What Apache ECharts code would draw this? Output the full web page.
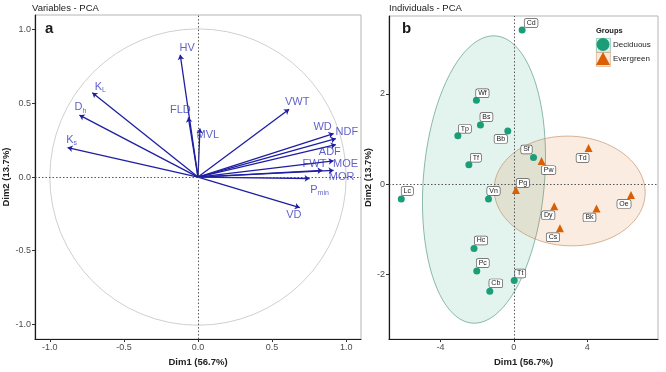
<!doctype html>
<html>
<head>
<meta charset="utf-8">
<title>PCA - variables and individuals</title>
<style>
  html, body { margin: 0; background: #fff; }
  #main { width: 666px; height: 372px; }
</style>
</head>
<body>
<div id="main"></div>
<script src="https://cdn.jsdelivr.net/npm/echarts@6/dist/echarts.min.js"></script>
<script>
// ---- variables (correlation circle) ----
var varNames = ['HV', 'KL', 'Dh', 'Ks', 'FLD', 'MVL', 'VWT', 'WD', 'NDF', 'ADF', 'FWT', 'MOE', 'MOR', 'Pmin', 'VD'];
var varDim1 = [-0.12, -0.713, -0.80, -0.88, -0.065, 0.013, 0.615, 0.915, 0.93, 0.93, 0.84, 0.915, 0.915, 0.753, 0.687];
var varDim2 = [0.83, 0.573, 0.42, 0.20, 0.405, 0.33, 0.46, 0.295, 0.26, 0.22, 0.045, 0.11, 0.045, -0.01, -0.207];

// ---- individuals ----
var decNames = ['Cd', 'Wf', 'Bs', 'Tp', 'Bb', 'Tf', 'Sf', 'Lc', 'Vn', 'Hc', 'Pc', 'Tt', 'Cb'];
var decDim1 = [0.45, -2.04, -1.82, -3.05, -0.33, -2.45, 1.07, -6.13, -1.38, -2.17, -2.02, 0.02, -1.31];
var decDim2 = [3.42, 1.86, 1.31, 1.07, 1.18, 0.43, 0.59, -0.33, -0.33, -1.43, -1.93, -2.14, -2.38];

var evgNames = ['Pw', 'Td', 'Pg', 'Dy', 'Bk', 'Oe', 'Cs'];
var evgDim1 = [1.51, 4.07, 0.11, 2.2, 4.5, 6.38, 2.51];
var evgDim2 = [0.51, 0.80, -0.13, -0.49, -0.54, -0.24, -0.98];

// ---- tick labels ----
var varTicks = [-1, -0.5, 0, 0.5, 1];
var indXTicks = [-4, 0, 4];
var indYTicks = [-2, 0, 2];

// label text (rich, with subscripts) and repel-like shifts, kept apart from data
var varLabelText = {
    KL: '{m|K}{s|L}', Dh: '{m|D}{s|h}', Ks: '{m|K}{s|s}', Pmin: '{m|P}{s|min}'
};
var varLabelShift = {
    HV: [7, -7], KL: [8, -6], Dh: [1, -8], Ks: [4, -8], FLD: [-8, -7], MVL: [8, 7],
    VWT: [8, -7], WD: [-11, -7], NDF: [11, -7], ADF: [-6, 7], FWT: [-8, -6],
    MOE: [12, 3], MOR: [8, 7], Pmin: [10, 11], VD: [-6, 7]
};
var indLabelShift = {
    Cd: [9, -7], Wf: [6, -7], Bs: [6, -8], Tp: [7, -7], Bb: [-7, 8], Tf: [7, -7],
    Sf: [-7, -8], Lc: [6, -8], Vn: [5, -8], Hc: [7, -8], Pc: [6, -8], Tt: [6, -7],
    Cb: [6, -8], Pw: [7, 9], Td: [-6, 10], Pg: [7, -7], Dy: [-6, 9], Bk: [-7, 9],
    Oe: [-7, 9], Cs: [-7, 9]
};

var FONT = 'Liberation Sans, Arial, sans-serif';
var arrowColor = '#1e1ea2';
var varTextColor = '#3838bc';
var decColor = '#1b9e77';
var evgColor = '#d95f02';

function mean(a) {
    var s = 0;
    for (var i = 0; i < a.length; i++) s += a[i];
    return s / a.length;
}

// normal-theory ellipse like ggplot2 stat_ellipse(type = "norm")
function ellipsePoints(xs, ys, level) {
    var n = xs.length, mx = mean(xs), my = mean(ys);
    var sxx = 0, syy = 0, sxy = 0;
    for (var i = 0; i < n; i++) {
        sxx += (xs[i] - mx) * (xs[i] - mx);
        syy += (ys[i] - my) * (ys[i] - my);
        sxy += (xs[i] - mx) * (ys[i] - my);
    }
    sxx /= n - 1; syy /= n - 1; sxy /= n - 1;
    var d = n - 1;
    var q = d / 2 * (Math.pow(1 - level, -2 / d) - 1); // qf(level, 2, d)
    var r = Math.sqrt(2 * q);
    var r11 = Math.sqrt(sxx), r12 = sxy / r11, r22 = Math.sqrt(syy - r12 * r12);
    var pts = [];
    for (var k = 0; k < 90; k++) {
        var t = 2 * Math.PI * k / 90, c = Math.cos(t), s = Math.sin(t);
        pts.push([mx + r * c * r11, my + r * (c * r12 + s * r22)]);
    }
    return pts;
}

function ellipseSeries(xs, ys, fill, stroke) {
    var pts = ellipsePoints(xs, ys, 0.775);
    return {
        type: 'custom', xAxisIndex: 1, yAxisIndex: 1, silent: true, z: 1,
        data: [[mean(xs), mean(ys)]],
        renderItem: function (params, api) {
            return {
                type: 'polygon',
                shape: { points: pts.map(function (p) { return api.coord(p); }) },
                style: { fill: fill, stroke: stroke, lineWidth: 0.8 }
            };
        }
    };
}

function indData(names, d1, d2) {
    return names.map(function (nm, i) {
        return { name: nm, value: [d1[i], d2[i]], label: { offset: indLabelShift[nm] } };
    });
}

var chart = echarts.init(document.getElementById('main'));

var axisLabelStyle = { fontFamily: FONT, fontSize: 9, color: '#4d4d4d', margin: 4 };
var axisNameStyle = { fontFamily: FONT, fontSize: 9.5, fontWeight: 'bold', color: '#222' };

function makeAxis(grid, min, max, ticks, name, gap, fmt) {
    return {
        type: 'value', gridIndex: grid, min: min, max: max,
        name: name, nameLocation: 'middle', nameGap: gap, nameTextStyle: axisNameStyle,
        axisLine: { show: true, onZero: false, lineStyle: { color: '#1a1a1a', width: 1.2 } },
        axisTick: { show: true, length: 3, customValues: ticks, lineStyle: { color: '#333' } },
        axisLabel: Object.assign({ customValues: ticks, formatter: fmt }, axisLabelStyle),
        splitLine: { show: false }
    };
}

var zeroLines = {
    silent: true, symbol: 'none', label: { show: false },
    lineStyle: { color: '#444', type: [1.5, 2], width: 0.9 },
    data: [{ xAxis: 0 }, { yAxis: 0 }]
};

function titleText(text, left, top, size, weight) {
    return {
        text: text, left: left, top: top, padding: 0,
        textStyle: { fontFamily: FONT, fontSize: size, fontWeight: weight, color: '#1a1a1a' }
    };
}

chart.setOption({
    animation: false,
    title: [
        titleText('Variables - PCA', 32, 3, 9.5, 'normal'),
        titleText('Individuals - PCA', 389, 3, 9.5, 'normal'),
        titleText('a', 45, 21, 15, 'bold'),
        titleText('b', 402, 21, 15, 'bold'),
        titleText('Groups', 596, 27, 7.5, 'bold')
    ],
    grid: [
        { left: 32, top: 15, width: 329, height: 330, show: true, borderColor: '#b5b5b5', borderWidth: 1 },
        { left: 389, top: 16, width: 269, height: 330, show: true, borderColor: '#b5b5b5', borderWidth: 1 }
    ],
    xAxis: [
        makeAxis(0, -1.1, 1.1, varTicks, 'Dim1 (56.7%)', 16, function (v) { return v.toFixed(1); }),
        makeAxis(1, -6.8, 7.85, indXTicks, 'Dim1 (56.7%)', 16, function (v) { return String(v); })
    ],
    yAxis: [
        makeAxis(0, -1.1, 1.1, varTicks, 'Dim2 (13.7%)', 24, function (v) { return v.toFixed(1); }),
        makeAxis(1, -3.44, 3.73, indYTicks, 'Dim2 (13.7%)', 14, function (v) { return String(v); })
    ],
    legend: {
        left: 596, top: 38, padding: 0, orient: 'vertical', itemWidth: 14, itemHeight: 13, itemGap: 1,
        textStyle: { fontFamily: FONT, fontSize: 8, color: '#222', padding: [0, 0, 0, -2] },
        data: [{ name: 'Deciduous', icon: 'circle' }, { name: 'Evergreen', icon: 'triangle' }]
    },
    graphic: [
        { type: 'rect', left: 596, top: 38, z: 0, shape: { width: 14, height: 14 }, style: { fill: 'rgba(27,158,119,0.15)', stroke: '#8cc2b2', lineWidth: 0.8 } },
        { type: 'rect', left: 596, top: 52, z: 0, shape: { width: 14, height: 14 }, style: { fill: 'rgba(217,95,2,0.15)', stroke: '#e0b08f', lineWidth: 0.8 } }
    ],
    series: [
        // unit circle
        {
            type: 'custom', xAxisIndex: 0, yAxisIndex: 0, silent: true, z: 1,
            data: [[0, 0, 1]],
            renderItem: function (params, api) {
                var c = api.coord([api.value(0), api.value(1)]);
                var r = api.size([api.value(2), 0])[0];
                return { type: 'circle', shape: { cx: c[0], cy: c[1], r: r }, style: { fill: 'none', stroke: '#cfcfcf', lineWidth: 1 } };
            }
        },
        // arrows
        {
            type: 'lines', coordinateSystem: 'cartesian2d', xAxisIndex: 0, yAxisIndex: 0, z: 3,
            symbol: ['none', 'arrow'], symbolSize: 5, silent: true,
            lineStyle: { color: arrowColor, width: 1.3, opacity: 1 },
            markLine: zeroLines,
            data: varNames.map(function (nm, i) { return { coords: [[0, 0], [varDim1[i], varDim2[i]]] }; })
        },
        // arrow labels
        {
            type: 'scatter', xAxisIndex: 0, yAxisIndex: 0, symbolSize: 0, silent: true, z: 4,
            label: {
                show: true, position: 'inside', fontFamily: FONT, fontSize: 11, color: varTextColor,
                formatter: function (p) { return varLabelText[p.name] || p.name; },
                rich: {
                    m: { fontFamily: FONT, fontSize: 11, color: varTextColor },
                    s: { fontFamily: FONT, fontSize: 7, color: varTextColor, padding: [7, 0, 0, 0] }
                }
            },
            data: varNames.map(function (nm, i) {
                return { name: nm, value: [varDim1[i], varDim2[i]], label: { offset: varLabelShift[nm] } };
            })
        },
        // ellipses
        ellipseSeries(decDim1, decDim2, 'rgba(27,158,119,0.12)', 'rgba(70,140,120,0.75)'),
        ellipseSeries(evgDim1, evgDim2, 'rgba(217,95,2,0.12)', 'rgba(190,140,100,0.8)'),
        // individuals
        {
            name: 'Deciduous', type: 'scatter', xAxisIndex: 1, yAxisIndex: 1, z: 5,
            symbol: 'circle', symbolSize: 7, itemStyle: { color: decColor, opacity: 1 },
            markLine: zeroLines,
            label: {
                show: true, position: 'inside', formatter: '{b}', fontFamily: FONT, fontSize: 7, color: '#222',
                backgroundColor: '#fff', borderColor: '#555', borderWidth: 0.7, borderRadius: 1.5, padding: [1, 2, 0, 2]
            },
            data: indData(decNames, decDim1, decDim2)
        },
        {
            name: 'Evergreen', type: 'scatter', xAxisIndex: 1, yAxisIndex: 1, z: 5,
            symbol: 'triangle', symbolSize: 8, itemStyle: { color: evgColor, opacity: 1 },
            label: {
                show: true, position: 'inside', formatter: '{b}', fontFamily: FONT, fontSize: 7, color: '#222',
                backgroundColor: '#fff', borderColor: '#555', borderWidth: 0.7, borderRadius: 1.5, padding: [1, 2, 0, 2]
            },
            data: indData(evgNames, evgDim1, evgDim2)
        }
    ]
});
</script>
</body>
</html>
